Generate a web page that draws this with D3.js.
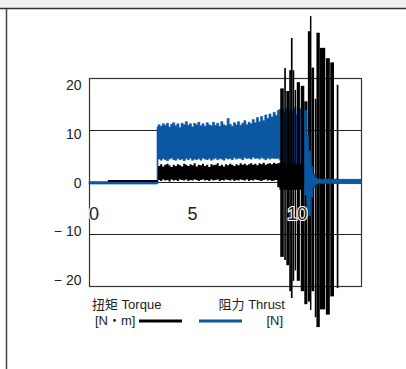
<!DOCTYPE html>
<html>
<head>
<meta charset="utf-8">
<script src="https://cdn.jsdelivr.net/npm/d3@7"></script>
<style>
  body { margin: 0; background: #fff; }
  svg { display: block; font-family: "Liberation Sans", Arial, "Noto Sans CJK SC", sans-serif; }
</style>
</head>
<body>
<svg width="406" height="369"></svg>
<script>
// sampled envelope of both signals (time in s, low/high value of the trace in each step)
const sampleTime = [0, 0.9, 3.25,
  3.3, 3.4, 3.5, 3.6, 3.7, 3.8, 3.9,
  4.0, 4.1, 4.2, 4.3, 4.4, 4.5, 4.6, 4.7, 4.8, 4.9,
  5.0, 5.1, 5.2, 5.3, 5.4, 5.5, 5.6, 5.7, 5.8, 5.9,
  6.0, 6.1, 6.2, 6.3, 6.4, 6.5, 6.6, 6.7, 6.8, 6.9,
  7.0, 7.1, 7.2, 7.3, 7.4, 7.5, 7.6, 7.7, 7.8, 7.9,
  8.0, 8.1, 8.2, 8.3, 8.4, 8.5, 8.6, 8.7, 8.8, 8.9,
  9.0, 9.1, 9.2, 9.3, 9.4, 9.5, 9.6, 9.7, 9.8, 9.9,
  10.0, 10.1, 10.2, 10.3, 10.4, 10.5, 10.6, 10.7, 10.8, 10.9,
  11.0, 11.1, 11.2, 11.3, 11.4, 11.5, 11.6, 11.7, 11.8, 11.9,
  12.0, 13.0];

const thrustHigh = [0.1, 0.1, 10.6,
  11.0, 10.7, 11.2, 10.9, 11.3, 10.6, 11.1,
  11.4, 10.8, 11.2, 10.5, 11.3, 11.0, 11.6, 10.9, 11.2, 10.6,
  11.3, 11.0, 11.5, 10.8, 11.2, 10.7, 11.4, 11.0, 10.8, 11.5,
  10.9, 11.3, 10.7, 11.6, 11.0, 10.8, 12.2, 11.1, 10.7, 11.4,
  11.0, 11.6, 10.9, 11.3, 11.8, 11.0, 11.5, 11.2, 12.0, 11.4,
  12.4, 11.6, 12.6, 11.8, 12.9, 12.2, 13.1, 12.5, 13.4, 12.8,
  13.8, 14.0, 14.0, 13.5, 14.2, 13.0, 14.0, 13.5, 14.4, 13.0,
  14.0, 14.2, 13.5, 13.8, 9.0, 6.0, 3.0, 1.5, 0.8, 0.6,
  0.6, 0.5, 0.6, 0.5, 0.6, 0.5, 0.6, 0.5, 0.6, 0.5,
  0.5, 0.5];

const thrustLow = [-0.4, -0.4, -0.3,
  4.4, 4.2, 4.5, 4.3, 4.1, 4.4, 4.6,
  4.3, 4.2, 4.5, 4.3, 4.4, 4.1, 4.5, 4.3, 4.6, 4.2,
  4.4, 4.3, 4.5, 4.2, 4.6, 4.4, 4.3, 4.5, 4.2, 4.4,
  4.6, 4.3, 4.5, 4.4, 4.2, 4.6, 4.4, 4.5, 4.3, 4.7,
  4.4, 4.6, 4.5, 4.3, 4.7, 4.5, 4.6, 4.4, 4.8, 4.5,
  4.6, 4.4, 4.7, 4.5, 4.3, 4.6, 4.4, 4.6, 4.5, 4.5,
  4.5, 4.2, 3.0, 2.5, 2.5, 2.0, 1.5, 1.5, 1.0, 1.0,
  0.5, 0.0, -0.5, -2.5, -5.5, -6.5, -3.0, -1.0, -0.5, -0.3,
  -0.3, -0.3, -0.3, -0.3, -0.3, -0.3, -0.3, -0.3, -0.3, -0.3,
  -0.3, -0.3];

const torqueHigh = [0, 0.4, 0.4,
  3.1, 3.4, 3.0, 3.3, 3.5, 3.2, 2.9,
  3.3, 3.1, 3.4, 3.2, 3.0, 3.5, 3.3, 3.1, 3.4, 3.2,
  3.6, 3.0, 3.3, 3.2, 3.5, 3.1, 3.3, 2.9, 3.4, 3.2,
  3.3, 3.6, 3.1, 3.3, 3.0, 3.4, 3.2, 3.5, 3.3, 3.1,
  3.4, 3.2, 3.6, 3.3, 3.5, 3.2, 3.4, 3.6, 3.3, 3.5,
  3.2, 3.6, 3.4, 3.7, 3.3, 3.5, 3.6, 3.4, 3.7, 3.5,
  3.6, 3.8, 3.5, 3.6, 3.4, 3.6, 3.5, 3.4, 3.6, 3.5,
  3.4, 3.5, 3.3, 0, 0, 0, 0, 0, 0, 0,
  0, 0, 0, 0, 0, 0, 0, 0, 0, 0,
  0, 0];

const torqueLow = [0, 0, 0,
  0.4, 0.2, 0.5, 0.3, 0.4, 0.1, 0.5,
  0.3, 0.4, 0.2, 0.5, 0.4, 0.3, 0.5, 0.2, 0.4, 0.3,
  0.5, 0.4, 0.2, 0.4, 0.5, 0.3, 0.4, 0.2, 0.5, 0.3,
  0.4, 0.5, 0.2, 0.4, 0.3, 0.5, 0.4, 0.3, 0.5, 0.2,
  0.4, 0.3, 0.5, 0.4, 0.3, 0.5, 0.2, 0.4, 0.3, 0.5,
  0.4, 0.3, 0.2, 0.4, 0.5, 0.3, 0.4, 0.2, 0.3, 0.4,
  -1.0, -1.5, -1.5, -1.5, -1.5, -1.5, -1.5, -1.5, -1.5, -1.5,
  -1.5, -1.5, -1.5, 0, 0, 0, 0, 0, 0, 0,
  0, 0, 0, 0, 0, 0, 0, 0, 0, 0,
  0, 0];

// torque bursts at the end of the run (start/end time, low/high value)
const burstStart = [9.14, 9.33, 9.43, 9.57, 9.65, 9.73, 9.83, 9.93, 10.12, 10.29,
  10.46, 10.56, 10.63, 10.79, 10.87, 11.03, 11.32, 11.53, 11.84];
const burstEnd = [9.31, 9.41, 9.57, 9.65, 9.73, 9.81, 9.90, 10.08, 10.29, 10.44,
  10.56, 10.63, 10.76, 10.87, 11.03, 11.29, 11.51, 11.71, 11.92];
const burstLow = [-14.4, -15.0, -16.0, -21.0, -22.3, -19.0, -17.0, -19.0, -21.0, -23.5,
  -23.0, -24.6, -21.0, -26.0, -27.9, -24.5, -25.5, -22.0, -20.4];
const burstHigh = [18.0, 21.9, 17.5, 21.5, 27.7, 21.5, 17.7, 19.2, 18.5, 15.5,
  29.0, 31.9, 22.0, 16.0, 28.7, 25.8, 23.8, 23.0, 18.7];

// the thrust trace is plotted over the torque bursts from here on
const thrustOnTopFrom = 10.3;

const xTicks = [0, 5, 10];
const yTicks = [20, 10, 0, -10, -20];
const gridValues = [10, 0, -10];

const seriesNames = ["扭矩 Torque", "阻力 Thrust"];
const seriesUnits = ["[N・m]", "[N]"];
const seriesColors = ["#000000", "#0b57a1"];

const svg = d3.select("svg");

// window chrome around the figure
svg.append("rect").attr("x", 0).attr("y", 0).attr("width", 406).attr("height", 8).attr("fill", "#eef1f4");
svg.append("line").attr("x1", 0).attr("x2", 406).attr("y1", 8.5).attr("y2", 8.5)
  .attr("stroke", "#333").attr("stroke-width", 1.5);
svg.append("line").attr("x1", 6.5).attr("x2", 6.5).attr("y1", 9).attr("y2", 369)
  .attr("stroke", "#444").attr("stroke-width", 1.5);

const x = d3.scaleLinear().domain([0, 13]).range([89, 361]);
const y = d3.scaleLinear().domain([-20, 20]).range([286, 78]);
// tick labels are set a bit tighter than the grid
const labelY = d3.scaleLinear().domain([-20, 20]).range([285, 90]);

svg.append("rect")
  .attr("x", x(0) + 0.5).attr("y", y(20) + 0.5)
  .attr("width", x(13) - x(0)).attr("height", y(-20) - y(20))
  .attr("fill", "none").attr("stroke", "#333").attr("stroke-width", 1.2);

svg.selectAll(".grid").data(gridValues).join("line")
  .attr("class", "grid")
  .attr("x1", x(0)).attr("x2", x(13))
  .attr("y1", (d) => Math.round(y(d)) + 0.5).attr("y2", (d) => Math.round(y(d)) + 0.5)
  .attr("stroke", "#222").attr("stroke-width", 1.1);

let samples = sampleTime.map((t, i) => ({
  t: t,
  thrustLow: thrustLow[i], thrustHigh: thrustHigh[i],
  torqueLow: torqueLow[i], torqueHigh: torqueHigh[i]
}));

let thrustArea = d3.area()
  .curve(d3.curveStepAfter)
  .x((d) => x(d.t))
  .y0((d) => y(d.thrustLow))
  .y1((d) => y(d.thrustHigh));

let torqueArea = d3.area()
  .curve(d3.curveStepAfter)
  .x((d) => x(d.t))
  .y0((d) => y(d.torqueLow))
  .y1((d) => y(d.torqueHigh));

svg.append("path").attr("d", thrustArea(samples))
  .attr("fill", seriesColors[1]).attr("stroke", seriesColors[1]).attr("stroke-width", 0.6);
svg.append("path").attr("d", torqueArea(samples))
  .attr("fill", seriesColors[0]);

let bursts = burstStart.map((s, i) => ({ s: s, e: burstEnd[i], lo: burstLow[i], hi: burstHigh[i] }));
svg.selectAll(".burst").data(bursts).join("rect")
  .attr("class", "burst")
  .attr("x", (d) => x(d.s))
  .attr("width", (d) => x(d.e) - x(d.s))
  .attr("y", (d) => y(d.hi))
  .attr("height", (d) => y(d.lo) - y(d.hi))
  .attr("fill", seriesColors[0]);

svg.append("path").attr("d", thrustArea(samples.filter((d) => d.t >= thrustOnTopFrom)))
  .attr("fill", seriesColors[1]).attr("stroke", seriesColors[1]).attr("stroke-width", 0.6);

// y tick labels
svg.selectAll(".ylab").data(yTicks).join("text")
  .attr("class", "ylab")
  .attr("x", 81.5)
  .attr("y", (d) => labelY(d))
  .attr("text-anchor", "end")
  .attr("font-size", 14)
  .attr("fill", "#222")
  .text((d) => (d < 0 ? "\u2212 " + Math.abs(d) : d));

// x tick labels sit inside the plot, with a white halo
svg.selectAll(".xlab").data(xTicks).join("text")
  .attr("class", "xlab")
  .attr("x", (d) => (d === 0 ? x(d) : x(d) - 1))
  .attr("y", 219.5)
  .attr("text-anchor", (d) => (d === 0 ? "start" : "middle"))
  .attr("font-size", 18)
  .attr("fill", "#222")
  .attr("stroke", "#fff").attr("stroke-width", 2.2)
  .attr("paint-order", "stroke")
  .text((d) => d);

// legend
let legend = svg.append("g").attr("font-size", 13).attr("fill", "#222");
legend.append("text").attr("x", 92).attr("y", 309).text(seriesNames[0]);
legend.append("text").attr("x", 95).attr("y", 325).text(seriesUnits[0]);
legend.append("text").attr("x", 285).attr("y", 309).attr("text-anchor", "end").text(seriesNames[1]);
legend.append("text").attr("x", 283).attr("y", 325).attr("text-anchor", "end").text(seriesUnits[1]);
legend.append("line").attr("x1", 139).attr("x2", 182).attr("y1", 321).attr("y2", 321)
  .attr("stroke", seriesColors[0]).attr("stroke-width", 3);
legend.append("line").attr("x1", 199).attr("x2", 242).attr("y1", 321).attr("y2", 321)
  .attr("stroke", seriesColors[1]).attr("stroke-width", 3);
</script>
</body>
</html>
